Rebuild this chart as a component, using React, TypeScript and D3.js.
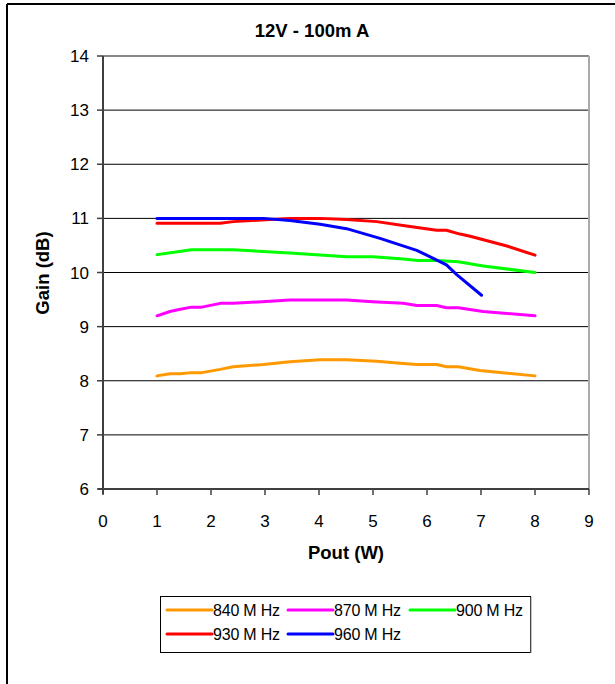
import React from "react";
import * as d3 from "d3";

const title = "12V - 100m A";
const xTicks = [0, 1, 2, 3, 4, 5, 6, 7, 8, 9];
const yTicks = [6, 7, 8, 9, 10, 11, 12, 13, 14];

const x840 = [1, 1.24, 1.43, 1.64, 1.83, 2.17, 2.41, 2.97, 3.46, 4.02, 4.51, 5.07, 5.56, 5.81, 6.18, 6.36, 6.58, 6.98, 8.0];
const y840 = [8.09, 8.13, 8.13, 8.15, 8.15, 8.21, 8.26, 8.3, 8.35, 8.39, 8.39, 8.36, 8.32, 8.3, 8.3, 8.26, 8.26, 8.19, 8.09];
const x870 = [1, 1.24, 1.43, 1.64, 1.83, 2.17, 2.41, 3.46, 4.51, 4.99, 5.56, 5.81, 6.18, 6.36, 6.58, 7.04, 8.0];
const y870 = [9.2, 9.28, 9.32, 9.36, 9.36, 9.43, 9.43, 9.49, 9.49, 9.46, 9.43, 9.39, 9.39, 9.35, 9.35, 9.28, 9.2];
const x900 = [1, 1.64, 2.41, 3.46, 4.51, 5.0, 5.56, 5.83, 6.18, 6.58, 7.04, 8.0];
const y900 = [10.33, 10.42, 10.42, 10.36, 10.29, 10.29, 10.25, 10.22, 10.22, 10.2, 10.12, 10.0];
const x930 = [1, 1.43, 2.17, 2.41, 3.46, 4.02, 4.51, 5.07, 5.62, 6.18, 6.36, 6.61, 6.8, 7.48, 8.0];
const y930 = [10.91, 10.91, 10.91, 10.94, 11.0, 11.0, 10.98, 10.94, 10.86, 10.78, 10.78, 10.71, 10.67, 10.49, 10.32];
const x960 = [1, 1.43, 2.41, 2.97, 3.46, 4.02, 4.51, 5.13, 5.81, 6.06, 6.36, 6.55, 7.01];
const y960 = [11.0, 11.0, 11.0, 11.0, 10.96, 10.89, 10.81, 10.63, 10.41, 10.29, 10.14, 9.96, 9.58];

const seriesNames = ["840 M Hz", "870 M Hz", "900 M Hz", "930 M Hz", "960 M Hz"];
const seriesColors = ["#FF9900", "#FF00FF", "#00FF00", "#FF0000", "#0000FF"];
const seriesX = [x840, x870, x900, x930, x960];
const seriesY = [y840, y870, y900, y930, y960];

const FONT = "Arial, 'Liberation Sans', Helvetica, sans-serif";

export default function App() {
  const W = 615, H = 684;
  const L = 103, R = 589, T = 56, B = 489;
  const xs = d3.scaleLinear().domain([0, 9]).range([L, R]);
  const ys = d3.scaleLinear().domain([6, 14]).range([B, T]);
  const line = d3.line<[number, number]>().x(d => xs(d[0])).y(d => ys(d[1]));

  const legendPos = [
    { x: 167, y: 610 }, { x: 288, y: 610 }, { x: 410, y: 610 },
    { x: 167, y: 634 }, { x: 288, y: 634 },
  ];

  return (
    <svg width={W} height={H} style={{ position: "absolute", left: 0, top: 0, background: "#fff" }} fontFamily={FONT}>
      <rect x={0} y={0} width={W} height={H} fill="#fff" />
      {/* outer frame */}
      <line x1={7} y1={4} x2={W} y2={4} stroke="#000" strokeWidth={2} />
      <line x1={7} y1={4} x2={7} y2={H} stroke="#000" strokeWidth={2} />

      <text x={312} y={37} textAnchor="middle" fontSize={18.5} fontWeight="bold">{title}</text>

      {/* gridlines */}
      {yTicks.filter(t => t > 6 && t < 14).map(t => (
        <line key={t} x1={L} x2={R} y1={ys(t)} y2={ys(t)} stroke="#000" strokeWidth={1} />
      ))}
      {/* plot frame top/right */}
      <line x1={L} x2={R} y1={T} y2={T} stroke="#888" strokeWidth={2} />
      <line x1={R} x2={R} y1={T} y2={B} stroke="#aaa" strokeWidth={2} />

      {/* axes */}
      <line x1={L} x2={L} y1={T} y2={B + 5} stroke="#404040" strokeWidth={2} />
      <line x1={L - 5} x2={R} y1={B} y2={B} stroke="#404040" strokeWidth={2} />
      {yTicks.map(t => (
        <g key={t}>
          <line x1={L - 6} x2={L} y1={ys(t)} y2={ys(t)} stroke="#404040" strokeWidth={1.5} />
          <text x={L - 14} y={ys(t) + 6} textAnchor="end" fontSize={17}>{t}</text>
        </g>
      ))}
      {xTicks.map(t => (
        <g key={t}>
          <line x1={xs(t)} x2={xs(t)} y1={B} y2={B + 6} stroke="#404040" strokeWidth={1.5} />
          <text x={xs(t)} y={B + 38} textAnchor="middle" fontSize={17}>{t}</text>
        </g>
      ))}

      <text x={346} y={559} textAnchor="middle" fontSize={18.5} fontWeight="bold">Pout (W)</text>
      <text transform={`translate(49,273) rotate(-90)`} textAnchor="middle" fontSize={18.5} fontWeight="bold">Gain (dB)</text>

      {/* series */}
      {seriesX.map((xa, i) => (
        <path key={i} d={line(xa.map((x, j) => [x, seriesY[i][j]] as [number, number])) || ""}
          fill="none" stroke={seriesColors[i]} strokeWidth={3} strokeLinejoin="round" strokeLinecap="round" />
      ))}

      {/* legend */}
      <rect x={160.5} y={596.5} width={370} height={56} fill="#fff" stroke="#000" strokeWidth={1} />
      <line x1={531} x2={531} y1={597} y2={653} stroke="#888" strokeWidth={1} />
      {seriesNames.map((n, i) => (
        <g key={n}>
          <line x1={legendPos[i].x} x2={legendPos[i].x + 45} y1={legendPos[i].y} y2={legendPos[i].y}
            stroke={seriesColors[i]} strokeWidth={3} strokeLinecap="round" />
          <text x={legendPos[i].x + 46} y={legendPos[i].y + 5.5} fontSize={16} letterSpacing={-0.2}>{n}</text>
        </g>
      ))}
    </svg>
  );
}
